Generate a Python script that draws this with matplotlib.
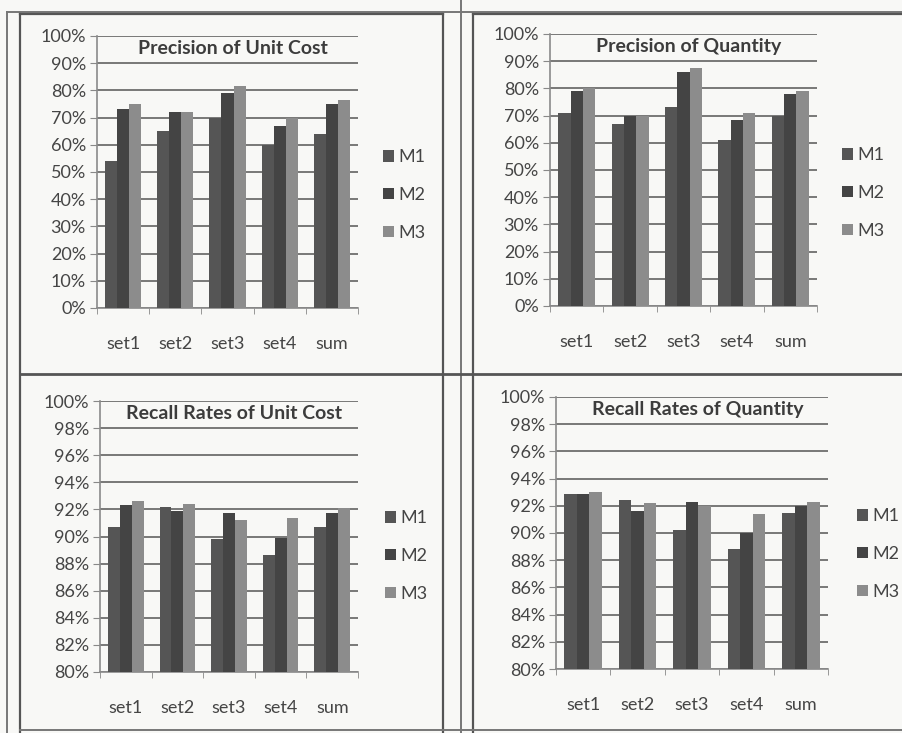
import matplotlib.pyplot as plt
from matplotlib.lines import Line2D
from matplotlib.ticker import FuncFormatter, FixedLocator
import numpy as np

plt.rcParams['font.family'] = ['Lato', 'DejaVu Sans']

categories = ['set1', 'set2', 'set3', 'set4', 'sum']
methods = ['M1', 'M2', 'M3']

# Precision of Unit Cost (%)
prec_cost_m1 = [54, 65, 70, 60, 64]
prec_cost_m2 = [73, 72, 79, 67, 75]
prec_cost_m3 = [75, 72, 81.5, 70, 76.5]

# Precision of Quantity (%)
prec_qty_m1 = [71, 67, 73, 61, 70]
prec_qty_m2 = [79, 70, 86, 68.5, 78]
prec_qty_m3 = [80, 70, 87.5, 71, 79]

# Recall Rates of Unit Cost (%)
rec_cost_m1 = [90.7, 92.2, 89.8, 88.6, 90.7]
rec_cost_m2 = [92.3, 91.9, 91.7, 89.9, 91.7]
rec_cost_m3 = [92.6, 92.4, 91.2, 91.4, 92.1]

# Recall Rates of Quantity (%)
rec_qty_m1 = [92.9, 92.4, 90.2, 88.8, 91.5]
rec_qty_m2 = [92.9, 91.6, 92.3, 90.0, 92.0]
rec_qty_m3 = [93.0, 92.2, 92.0, 91.4, 92.3]

W, H = 902, 733
bar_colors = ['#555555', '#444444', '#8c8c8c']
text_col = '#454545'

fig = plt.figure(figsize=(W / 100, H / 100), dpi=100)
fig.patch.set_facecolor('#f8f8f6')


def px_axes(x0, x1, ytop, ybot):
    return fig.add_axes([x0 / W, 1 - ybot / H, (x1 - x0) / W, (ybot - ytop) / H])


def fig_line(xs, ys, lw=1.6, color='#555555'):
    fig.add_artist(Line2D([x / W for x in xs], [1 - y / H for y in ys],
                          lw=lw, color=color, transform=fig.transFigure))


# panel configs: title, data, y range, ticks, axes box, legend spot
panels = [
    ('Precision of Unit Cost', [prec_cost_m1, prec_cost_m2, prec_cost_m3],
     (0, 100), np.arange(0, 101, 10), (97, 358, 36, 308), (383, 195)),
    ('Precision of Quantity', [prec_qty_m1, prec_qty_m2, prec_qty_m3],
     (0, 100), np.arange(0, 101, 10), (550, 817, 34, 306), (842, 193)),
    ('Recall Rates of Unit Cost', [rec_cost_m1, rec_cost_m2, rec_cost_m3],
     (80, 100), np.arange(80, 101, 2), (100, 358, 401, 672), (385, 556)),
    ('Recall Rates of Quantity', [rec_qty_m1, rec_qty_m2, rec_qty_m3],
     (80, 100), np.arange(80, 101, 2), (556, 828, 397, 669), (857, 554)),
]

x = np.arange(len(categories))
bw = 0.23

for title, series, ylim, yticks, box, leg in panels:
    ax = px_axes(*box)
    ax.set_facecolor('none')
    for i, (vals, m) in enumerate(zip(series, methods)):
        ax.bar(x + (i - 1) * bw, np.array(vals) - ylim[0], bottom=ylim[0],
               width=bw, color=bar_colors[i], label=m, zorder=3)
    ax.set_xlim(-0.5, len(categories) - 0.5)
    ax.set_ylim(*ylim)
    ax.set_yticks(yticks)
    ax.yaxis.set_major_formatter(FuncFormatter(lambda v, p: f'{v:.0f}%'))
    ax.grid(axis='y', color='#555555', lw=1.1, zorder=1)
    ax.set_xticks(x)
    ax.set_xticklabels(categories)
    ax.xaxis.set_minor_locator(FixedLocator(np.arange(-0.5, len(categories), 1)))
    ax.tick_params(axis='x', which='major', length=0, pad=20, labelsize=13, labelcolor=text_col)
    ax.tick_params(axis='x', which='minor', length=4, color='#888888', direction='out')
    ax.tick_params(axis='y', length=5, color='#888888', labelsize=13, labelcolor=text_col, pad=3)
    for s in ['top', 'right']:
        ax.spines[s].set_visible(False)
    for s in ['left', 'bottom']:
        ax.spines[s].set_color('#8a8a8a')
        ax.spines[s].set_linewidth(1.2)
    ax.text(0.52, 0.955, title, transform=ax.transAxes, ha='center', va='center',
            fontsize=14, fontweight='bold', color='#3c3c3c', zorder=5)
    ax.legend(loc='center left', bbox_to_anchor=(leg[0] / W, 1 - leg[1] / H),
              bbox_transform=fig.transFigure, frameon=False, fontsize=13,
              handlelength=0.6, handleheight=0.6, handletextpad=0.25,
              labelspacing=1.2, borderpad=0, borderaxespad=0, labelcolor=text_col)

# scanned page frame lines
fig_line([7, 7], [12, 733], lw=1.4, color='#777777')
fig_line([20, 20], [13, 733])
fig_line([7, 902], [12, 12], lw=1.4, color='#777777')
fig_line([20, 443], [14, 14])
fig_line([473, 902], [14, 14])
fig_line([443, 443], [14, 733])
fig_line([461, 461], [0, 733], lw=1.4, color='#777777')
fig_line([473, 473], [14, 733])
fig_line([20, 902], [374, 374], lw=2.0)
fig_line([20, 902], [730, 730], lw=1.4, color='#777777')

fig.savefig('out.png', dpi=100, facecolor=fig.get_facecolor())
